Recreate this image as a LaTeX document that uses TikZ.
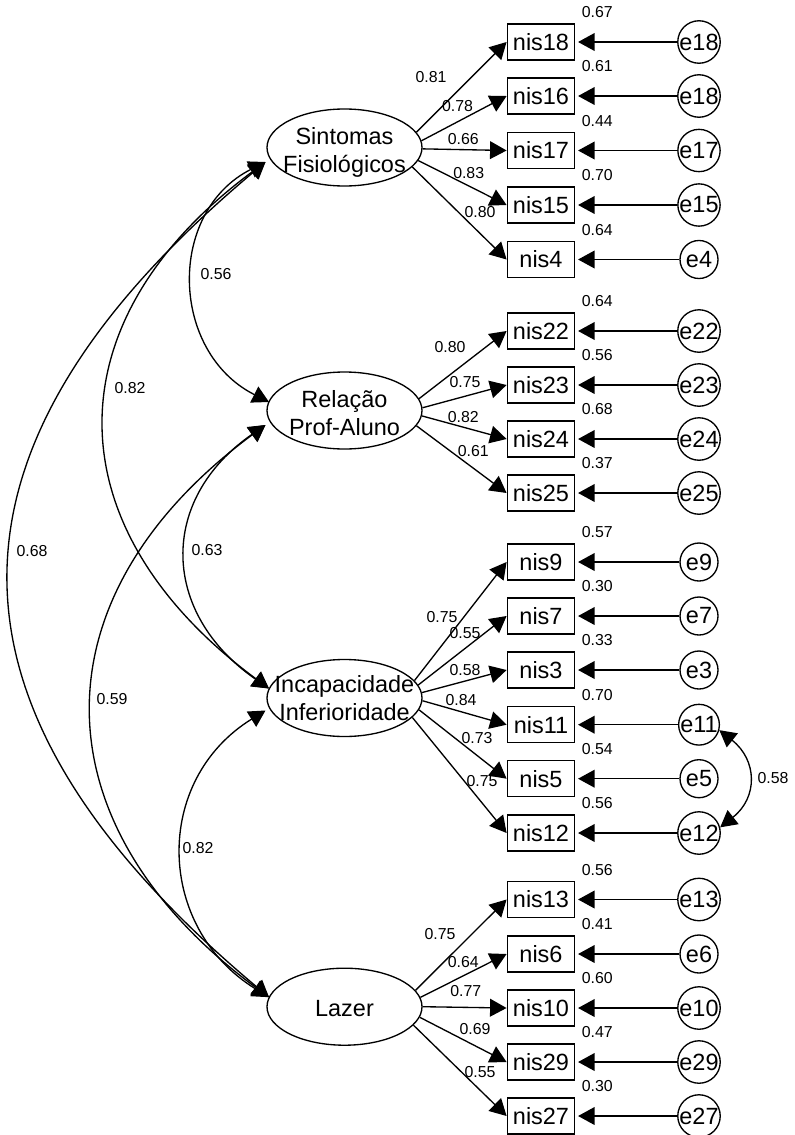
\documentclass[tikz,border=0pt]{standalone}
\usepackage{fontspec}
\setmainfont{Liberation Sans}
\usetikzlibrary{arrows.meta,shapes.geometric,calc}
\begin{document}
\begin{tikzpicture}[x=0.75pt,y=-0.75pt,line width=1pt,
  lat/.style={draw,ellipse,minimum width=116.25pt,minimum height=57.75pt,inner sep=0pt},
  lattext/.style={align=center,font=\fontsize{17.6}{20.8}\selectfont,inner sep=0pt},
  obs/.style={draw,rectangle,minimum width=50.6pt,minimum height=27pt,inner sep=0pt,font=\fontsize{17.6}{20.8}\selectfont},
  err/.style={draw,circle,minimum size=28.5pt,inner sep=0pt,font=\fontsize{17.6}{20.8}\selectfont},
  coef/.style={font=\fontsize{11.9}{14}\selectfont,inner sep=0pt},
  arr/.style={-{Triangle[length=12.4pt,width=13.3pt]}},
  earr/.style={-{Triangle[length=12.4pt,width=13.3pt]},shorten >=2pt},
  darr/.style={{Triangle[length=12.4pt,width=13.3pt]}-{Triangle[length=12.4pt,width=13.3pt]}},
  rsq/.style={coef,anchor=base west}
]
\useasboundingbox (0,0) rectangle (794,1135);

% latent variables
\node[lat] (S) at (344.5,147.5) {};
\node[lattext] (St) at ($(S.center)+(0,5)$) {Sintomas\\Fisiológicos};
\node[lat] (R) at (344.5,410.5) {};
\node[lattext] (Rt0) at ($(R.center)+(0,2.5)$) {Relação\\Prof-Aluno};
\node[lat] (I) at (344.5,698) {};
\node[lattext] (It0) at ($(I.center)+(0,0)$) {Incapacidade\\Inferioridade};
\node[lat] (L) at (344.5,1006.7) {};
\node[lattext] (Lt0) at ($(L.center)+(0,1.6)$) {Lazer};

% ---------- Sintomas ----------
\node[obs] (n18) at (541,42) {nis18};
\node[obs] (n16) at (541,96) {nis16};
\node[obs] (n17) at (541,150.5) {nis17};
\node[obs] (n15) at (541,205) {nis15};
\node[obs] (n4) at (541,259.5) {nis4};
\node[err] (e18a) at (699,42) {e18};
\node[err] (e18b) at (699,96) {e18};
\node[err] (e17) at (699,150.5) {e17};
\node[err] (e15) at (699,205) {e15};
\node[err] (e4) at (699,259.5) {e4};
\draw[arr] (S.12.8) -- (n18.west);
\draw[arr] (S.5.6) -- (n16.west);
\draw[arr] (S.-1.5) -- (n17.west);
\draw[arr] (S.-10.7) -- (n15.west);
\draw[arr] (S.-16.5) -- (n4.west);
\draw[earr] (e18a.west) -- (n18.east);
\draw[earr] (e18b.west) -- (n16.east);
\draw[earr] (e17.west) -- (n17.east);
\draw[earr] (e15.west) -- (n15.east);
\draw[earr] (e4.west) -- (n4.east);
\node[coef] (lS1) at (431,77.5) {0.81};
\node[coef] (lS2) at (457.5,106) {0.78};
\node[coef] (lS3) at (463.3,138.7) {0.66};
\node[coef] (lS4) at (468.7,173.3) {0.83};
\node[coef] (lS5) at (480,212) {0.80};
\node[rsq] (q18) at ($(n18.north east)+(5.7,-5.4)$) {0.67};
\node[rsq] (q16) at ($(n16.north east)+(5.7,-5.4)$) {0.61};
\node[rsq] (q17) at ($(n17.north east)+(5.7,-5.4)$) {0.44};
\node[rsq] (q15) at ($(n15.north east)+(5.7,-5.4)$) {0.70};
\node[rsq] (q4) at ($(n4.north east)+(5.7,-5.4)$) {0.64};

% ---------- Relacao ----------
\node[obs] (n22) at (541,331) {nis22};
\node[obs] (n23) at (541,385) {nis23};
\node[obs] (n24) at (541,439) {nis24};
\node[obs] (n25) at (541,493) {nis25};
\node[err] (e22) at (699,331) {e22};
\node[err] (e23) at (699,385) {e23};
\node[err] (e24) at (699,439) {e24};
\node[err] (e25) at (699,493) {e25};
\draw[arr] (R.9.2) -- (n22.west);
\draw[arr] (R.2.8) -- (n23.west);
\draw[arr] (R.-4.6) -- (n24.west);
\draw[arr] (R.-12.4) -- (n25.west);
\draw[earr] (e22.west) -- (n22.east);
\draw[earr] (e23.west) -- (n23.east);
\draw[earr] (e24.west) -- (n24.east);
\draw[earr] (e25.west) -- (n25.east);
\node[coef] (lR1) at (450,347.5) {0.80};
\node[coef] (lR2) at (465,381.7) {0.75};
\node[coef] (lR3) at (463.3,416.7) {0.82};
\node[coef] (lR4) at (473.3,451) {0.61};
\node[rsq] (q22) at ($(n22.north east)+(5.7,-5.4)$) {0.64};
\node[rsq] (q23) at ($(n23.north east)+(5.7,-5.4)$) {0.56};
\node[rsq] (q24) at ($(n24.north east)+(5.7,-5.4)$) {0.68};
\node[rsq] (q25) at ($(n25.north east)+(5.7,-5.4)$) {0.37};

% ---------- Incapacidade ----------
\node[obs] (n9) at (541,562) {nis9};
\node[obs] (n7) at (541,616) {nis7};
\node[obs] (n3) at (541,670) {nis3};
\node[obs] (n11) at (541,724.7) {nis11};
\node[obs] (n5) at (541,778.7) {nis5};
\node[obs] (n12) at (541,833) {nis12};
\node[err] (e9) at (699,562) {e9};
\node[err] (e7) at (699,616) {e7};
\node[err] (e3) at (699,670) {e3};
\node[err] (e11) at (699,724.7) {e11};
\node[err] (e5) at (699,778.7) {e5};
\node[err] (e12) at (699,833) {e12};
\draw[arr] (I.14.7) -- (n9.west);
\draw[arr] (I.10.1) -- (n7.west);
\draw[arr] (I.4.6) -- (n3.west);
\draw[arr] (I.-2.7) -- (n11.west);
\draw[arr] (I.-9.1) -- (n5.west);
\draw[arr] (I.-16.5) -- (n12.west);
\draw[earr] (e9.west) -- (n9.east);
\draw[earr] (e7.west) -- (n7.east);
\draw[earr] (e3.west) -- (n3.east);
\draw[earr] (e11.west) -- (n11.east);
\draw[earr] (e5.west) -- (n5.east);
\draw[earr] (e12.west) -- (n12.east);
\node[coef] (lI1) at (442,617) {0.75};
\node[coef] (lI2) at (465,633) {0.55};
\node[coef] (lI3) at (465,670) {0.58};
\node[coef] (lI4) at (461,700) {0.84};
\node[coef] (lI5) at (477,738) {0.73};
\node[coef] (lI6) at (482,781) {0.75};
\node[rsq] (q9) at ($(n9.north east)+(5.7,-5.4)$) {0.57};
\node[rsq] (q7) at ($(n7.north east)+(5.7,-5.4)$) {0.30};
\node[rsq] (q3) at ($(n3.north east)+(5.7,-5.4)$) {0.33};
\node[rsq] (q11) at ($(n11.north east)+(5.7,-5.4)$) {0.70};
\node[rsq] (q5) at ($(n5.north east)+(5.7,-5.4)$) {0.54};
\node[rsq] (q12) at ($(n12.north east)+(5.7,-5.4)$) {0.56};
\draw[darr] (e11.-15) .. controls +(38,30) and +(38,-30) .. (e12.15);
\node[coef] (c11) at (773,778) {0.58};

% ---------- Lazer ----------
\node[obs] (n13) at (541,899.5) {nis13};
\node[obs] (n6) at (541,954) {nis6};
\node[obs] (n10) at (541,1008) {nis10};
\node[obs] (n29) at (541,1062) {nis29};
\node[obs] (n27) at (541,1116) {nis27};
\node[err] (e13) at (699,899.5) {e13};
\node[err] (e6) at (699,954) {e6};
\node[err] (e10) at (699,1008) {e10};
\node[err] (e29) at (699,1062) {e29};
\node[err] (e27) at (699,1116) {e27};
\draw[arr] (L.13.2) -- (n13.west);
\draw[arr] (L.7) -- (n6.west);
\draw[arr] (L.-0.7) -- (n10.west);
\draw[arr] (L.-8.7) -- (n29.west);
\draw[arr] (L.-15.7) -- (n27.west);
\draw[earr] (e13.west) -- (n13.east);
\draw[earr] (e6.west) -- (n6.east);
\draw[earr] (e10.west) -- (n10.east);
\draw[earr] (e29.west) -- (n29.east);
\draw[earr] (e27.west) -- (n27.east);
\node[coef] (lL1) at (440,934) {0.75};
\node[coef] (lL2) at (463.3,962) {0.64};
\node[coef] (lL3) at (465.8,990.8) {0.77};
\node[coef] (lL4) at (475,1029) {0.69};
\node[coef] (lL5) at (480,1072.5) {0.55};
\node[rsq] (q13) at ($(n13.north east)+(5.7,-5.4)$) {0.56};
\node[rsq] (q6) at ($(n6.north east)+(5.7,-5.4)$) {0.41};
\node[rsq] (q10) at ($(n10.north east)+(5.7,-5.4)$) {0.60};
\node[rsq] (q29) at ($(n29.north east)+(5.7,-5.4)$) {0.47};
\node[rsq] (q27) at ($(n27.north east)+(5.7,-5.4)$) {0.30};

% ---------- covariances between factors ----------
\coordinate (Sb) at ($(S.center)+(-79,14.5)$);
\coordinate (Rtop) at ($(R.center)+(-75.5,-8.5)$);
\coordinate (Rbot) at ($(R.center)+(-79,14.5)$);
\coordinate (Itop) at ($(I.center)+(-75.5,-9.5)$);
\coordinate (Ibot) at ($(I.center)+(-79,12.5)$);
\coordinate (Ltop) at ($(L.center)+(-75.5,-9.5)$);
\draw[darr] (Sb) .. controls +(-99,50) and +(-99,-50) .. (Rtop);
\draw[darr] (Sb) .. controls +(-216,160) and +(-216,-160) .. (Itop);
\draw[darr] (Sb) .. controls +(-343,288) and +(-343,-288) .. (Ltop);
\draw[darr] (Rbot) .. controls +(-108,75) and +(-108,-75) .. (Itop);
\draw[darr] (Rbot) .. controls +(-233,172) and +(-233,-172) .. (Ltop);
\draw[darr] (Ibot) .. controls +(-113,70) and +(-113,-70) .. (Ltop);
\node[coef] (cSR) at (216,274) {0.56};
\node[coef] (cSI) at (130,388) {0.82};
\node[coef] (cSL) at (32,551) {0.68};
\node[coef] (cRI) at (207,550) {0.63};
\node[coef] (cRL) at (112,699) {0.59};
\node[coef] (cIL) at (198,848) {0.82};
\end{tikzpicture}
\end{document}
